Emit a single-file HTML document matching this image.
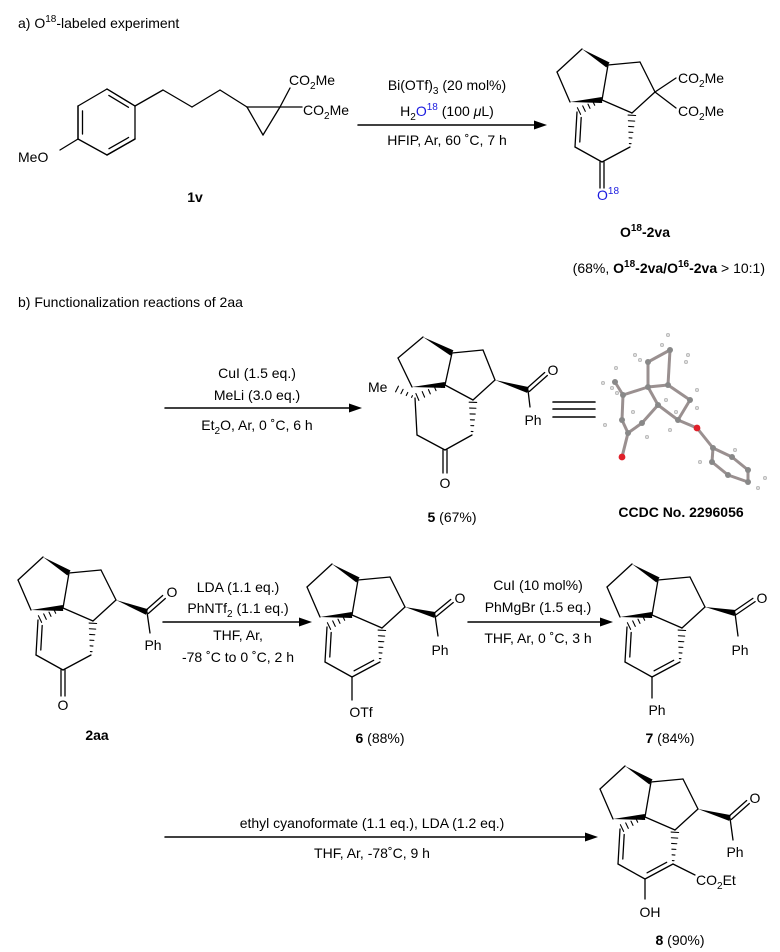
<!DOCTYPE html>
<html><head><meta charset="utf-8">
<style>
html,body{margin:0;padding:0;background:#fff;overflow:hidden;}
svg{display:block;}
text{font-family:"Liberation Sans",Arial,sans-serif;font-size:14px;fill:#000;}
.b{font-weight:bold;}
.s{font-size:10px;}
.m{text-anchor:middle;}
</style></head>
<body>
<svg id="g" width="780" height="952" viewBox="0 0 780 952" xmlns="http://www.w3.org/2000/svg">
<g id="bonds"></g>
<!-- section a -->
<text x="18" y="28">a) O<tspan class="s" dy="-6">18</tspan><tspan dy="6">-labeled experiment</tspan></text>
<text x="18" y="162">MeO</text>
<text x="289" y="85">CO<tspan class="s" dy="4">2</tspan><tspan dy="-4">Me</tspan></text>
<text x="303" y="115">CO<tspan class="s" dy="4">2</tspan><tspan dy="-4">Me</tspan></text>
<text x="195" y="202" class="b m">1v</text>
<text x="447" y="90" class="m">Bi(OTf)<tspan class="s" dy="4">3</tspan><tspan dy="-4"> (20 mol%)</tspan></text>
<text x="447" y="116" class="m">H<tspan class="s" dy="4">2</tspan><tspan dy="-4" style="fill:#1a1adf">O</tspan><tspan class="s" dy="-6" style="fill:#1a1adf">18</tspan><tspan dy="6"> (100 </tspan><tspan font-style="italic">μ</tspan><tspan>L)</tspan></text>
<text x="447" y="145" class="m">HFIP, Ar, 60 ˚C, 7 h</text>
<text x="678" y="83">CO<tspan class="s" dy="4">2</tspan><tspan dy="-4">Me</tspan></text>
<text x="678" y="116">CO<tspan class="s" dy="4">2</tspan><tspan dy="-4">Me</tspan></text>
<text x="597" y="200" style="fill:#1a1adf">O<tspan class="s" dy="-6" style="fill:#1a1adf">18</tspan></text>
<text x="645" y="237" class="b m">O<tspan class="s" dy="-6">18</tspan><tspan dy="6">-2va</tspan></text>
<text x="765" y="273" style="text-anchor:end">(68%, <tspan class="b">O</tspan><tspan class="s b" dy="-6">18</tspan><tspan class="b" dy="6">-2va/O</tspan><tspan class="s b" dy="-6">16</tspan><tspan class="b" dy="6">-2va</tspan> &gt; 10:1)</text>
<!-- section b -->
<text x="18" y="307">b) Functionalization reactions of 2aa</text>
<text x="257" y="378" class="m">CuI (1.5 eq.)</text>
<text x="257" y="400" class="m">MeLi (3.0 eq.)</text>
<text x="257" y="430" class="m">Et<tspan class="s" dy="4">2</tspan><tspan dy="-4">O, Ar, 0 ˚C, 6 h</tspan></text>
<text x="368" y="392">Me</text>
<text x="553" y="375" class="m">O</text>
<text x="533" y="425" class="m">Ph</text>
<text x="445" y="488" class="m">O</text>
<text x="452" y="522" class="m"><tspan class="b">5</tspan> (67%)</text>
<text x="681" y="517" class="b m">CCDC No. 2296056</text>
<!-- row 3 -->
<text x="238" y="592" class="m">LDA (1.1 eq.)</text>
<text x="238" y="613" class="m">PhNTf<tspan class="s" dy="4">2</tspan><tspan dy="-4"> (1.1 eq.)</tspan></text>
<text x="238" y="640" class="m">THF, Ar,</text>
<text x="238" y="662" class="m">-78 ˚C to 0 ˚C, 2 h</text>
<text x="172" y="597" class="m">O</text>
<text x="153" y="650" class="m">Ph</text>
<text x="63" y="710" class="m">O</text>
<text x="97" y="740" class="b m">2aa</text>
<text x="460" y="603" class="m">O</text>
<text x="440" y="655" class="m">Ph</text>
<text x="361" y="717" class="m">OTf</text>
<text x="380" y="743" class="m"><tspan class="b">6</tspan> (88%)</text>
<text x="538" y="590" class="m">CuI (10 mol%)</text>
<text x="538" y="612" class="m">PhMgBr (1.5 eq.)</text>
<text x="538" y="643" class="m">THF, Ar, 0 ˚C, 3 h</text>
<text x="762" y="603" class="m">O</text>
<text x="740" y="655" class="m">Ph</text>
<text x="657" y="715" class="m">Ph</text>
<text x="670" y="743" class="m"><tspan class="b">7</tspan> (84%)</text>
<!-- row 4 -->
<text x="372" y="828" class="m">ethyl cyanoformate (1.1 eq.), LDA (1.2 eq.)</text>
<text x="372" y="858" class="m">THF, Ar, -78˚C, 9 h</text>
<text x="755" y="803" class="m">O</text>
<text x="735" y="857" class="m">Ph</text>
<text x="696" y="885">CO<tspan class="s" dy="4">2</tspan><tspan dy="-4">Et</tspan></text>
<text x="650" y="917" class="m">OH</text>
<text x="680" y="945" class="m"><tspan class="b">8</tspan> (90%)</text>
</svg>
<script>
var S=[];
function L(a,b,c,d,w){w=w||1.3;S.push('<line x1="'+a+'" y1="'+b+'" x2="'+c+'" y2="'+d+'" stroke="#000" stroke-width="'+w+'" stroke-linecap="round"/>');}
function Lp(p,q){L(p[0],p[1],q[0],q[1]);}
function W(p,q,wd){wd=wd||5;var dx=q[0]-p[0],dy=q[1]-p[1],l=Math.hypot(dx,dy),nx=-dy/l*wd/2,ny=dx/l*wd/2;
 S.push('<polygon points="'+p[0]+','+p[1]+' '+(q[0]+nx)+','+(q[1]+ny)+' '+(q[0]-nx)+','+(q[1]-ny)+'" fill="#000"/>');}
function H(p,q,wd,n){wd=wd||6;n=n||6;var dx=q[0]-p[0],dy=q[1]-p[1],l=Math.hypot(dx,dy),ux=-dy/l,uy=dx/l;
 for(var i=0;i<n;i++){var t=(i+0.6)/n,x=p[0]+dx*t,y=p[1]+dy*t,h=wd/2*t+0.5;L(x+ux*h,y+uy*h,x-ux*h,y-uy*h,1.1);}}
function D(p,q,c){Lp(p,q);var dx=q[0]-p[0],dy=q[1]-p[1],l=Math.hypot(dx,dy),ux=-dy/l,uy=dx/l;
 var mx=(p[0]+q[0])/2,my=(p[1]+q[1])/2;if((c[0]-mx)*ux+(c[1]-my)*uy<0){ux=-ux;uy=-uy;}
 var o=4.5,s=0.15;L(p[0]+dx*s+ux*o,p[1]+dy*s+uy*o,q[0]-dx*s+ux*o,q[1]-dy*s+uy*o);}
function Dc(p,q){
 var dx=q[0]-p[0],dy=q[1]-p[1],l=Math.hypot(dx,dy),ux=-dy/l*2,uy=dx/l*2;
 L(p[0]+ux,p[1]+uy,q[0]+ux,q[1]+uy);L(p[0]-ux,p[1]-uy,q[0]-ux,q[1]-uy);}
function arrow(x1,x2,y){L(x1,y,x2-8,y,1.5);S.push('<polygon points="'+x2+','+y+' '+(x2-13)+','+(y-4.5)+' '+(x2-13)+','+(y+4.5)+'" fill="#000"/>');}
function sk(fx,fy,type,len){
 var p=function(a,b){return [fx+a,fy+b];};
 var TL=p(-20,-51),Lf=p(-45,-28),BL=p(-32,2),F=p(0,0),TF=p(6,-35),R1=p(38,-38),CH=p(53,-8),CHb=p(30,13),
 V1=p(-25,12),V2=p(-27,47),K=p(0,62),Wt=p(28,47),c6=p(0,30);
 Lp(TL,Lf);Lp(Lf,BL);W(BL,F,6);W(TL,TF,6);Lp(TF,F);Lp(TF,R1);Lp(R1,CH);Lp(CH,CHb);Lp(CHb,F);
 H(F,V1,7,5);D(V1,V2,c6);Lp(V2,K);H(Wt,CHb,7,6);
 if(type=='ket'){Lp(K,Wt);Dc(K,p(0,88));}
 else{D(K,Wt,c6);Lp(K,p(0,len||85));}
 return {CH:CH,Wt:Wt,K:K};
}
function bz(CH,C,O,Ph){W(CH,C,6);Dc(C,O);Lp(C,Ph);}
var bz0=[[107,89],[135,106],[135,139],[107,155],[78,139],[78,106]];
for(var i=0;i<6;i++)Lp(bz0[i],bz0[(i+1)%6]);
var cb=[107,122];D(bz0[5],bz0[4],cb);D(bz0[0],bz0[1],cb);D(bz0[2],bz0[3],cb);
L(78,139,60,150);
L(135,106,163,90);L(163,90,192,107);L(192,107,220,90);L(220,90,247,107);
L(247,107,280,107);L(280,107,263,135);L(263,135,247,107);
L(280,107,290,88);L(280,107,302,107);
arrow(358,547,125);
(function(){var r=sk(602,100,'ket');L(r.CH[0],r.CH[1],676,78);L(r.CH[0],r.CH[1],676,108);})();
arrow(165,362,408);
(function(){
 var TL=[423,337],Lf=[398,358],BL=[412,387],F=[445,385],TF=[452,353],R1=[483,350],CH=[495,380],CHb=[473,400],
 M=[415,398],A=[417,435],K=[445,450],Wt=[472,435];
 Lp(TL,Lf);Lp(Lf,BL);W(BL,F,6);W(TL,TF,6);Lp(TF,F);Lp(TF,R1);Lp(R1,CH);Lp(CH,CHb);Lp(CHb,F);
 H(F,M,7,5);H(M,[395,388],6,4);Lp(M,A);Lp(A,K);Lp(K,Wt);H(Wt,CHb,7,6);Dc(K,[445,473]);
 bz(CH,[528,390],[546,374],[530,407]);
 L(553,402,595,402,1.6);L(553,409,595,409,1.6);L(553,417,595,417,1.6);
})();
(function(){
 var A={c1:[648,362],c2:[670,350],c3:[668,385],cq:[648,387],c4:[623,395],me:[615,382],c5:[622,420],c6:[628,433],o1:[622,457],
 c7:[642,423],c8:[658,405],c9:[678,420],c10:[690,400],o2:[697,428],
 p1:[713,448],p2:[732,457],p3:[748,470],p4:[748,482],p5:[728,475],p6:[712,462]};
 var B=[['c1','c2'],['c2','c3'],['c3','cq'],['cq','c1'],['cq','c4'],['c4','me'],['c4','c5'],['c5','c6'],['c6','o1'],['c6','c7'],['c7','c8'],['c8','cq'],['c8','c9'],['c9','c10'],['c10','c3'],['c9','o2'],['o2','p1'],['p1','p2'],['p2','p3'],['p3','p4'],['p4','p5'],['p5','p6'],['p6','p1']];
 B.forEach(function(b){var p=A[b[0]],q=A[b[1]];S.push('<line x1="'+p[0]+'" y1="'+p[1]+'" x2="'+q[0]+'" y2="'+q[1]+'" stroke="#9a9090" stroke-width="3"/>');});
 var Hs=[[668,335],[635,355],[662,345],[688,355],[616,368],[603,383],[612,388],[605,425],[633,412],[647,437],[666,400],[676,412],[697,390],[697,408],[670,430],[700,462],[735,450],[765,478],[758,488],[617,393],[640,360],[686,362]];
 Hs.forEach(function(h){S.push('<circle cx="'+h[0]+'" cy="'+h[1]+'" r="1.8" fill="#ddd" stroke="#999" stroke-width="0.5"/>');});
 for(var k in A){var p=A[k];var red=(k=='o1'||k=='o2');S.push('<circle cx="'+p[0]+'" cy="'+p[1]+'" r="'+(red?3.4:3)+'" fill="'+(red?'#e0202a':'#888')+'"/>');}
})();
arrow(163,312,622);
(function(){var r=sk(63,608,'ket');bz(r.CH,[147,612],[164,597],[150,633]);})();
(function(){var r=sk(352,615,'ene',85);bz(r.CH,[435,615],[452,601],[438,636]);})();
arrow(468,613,622);
(function(){var r=sk(652,615,'ene',83);bz(r.CH,[735,613],[754,600],[738,636]);})();
arrow(165,598,837);
(function(){var r=sk(645,817,'ene',82);bz(r.CH,[730,818],[748,802],[733,840]);L(r.Wt[0],r.Wt[1],695,875);})();
document.getElementById('bonds').innerHTML=S.join('');
</script>
</body></html>
